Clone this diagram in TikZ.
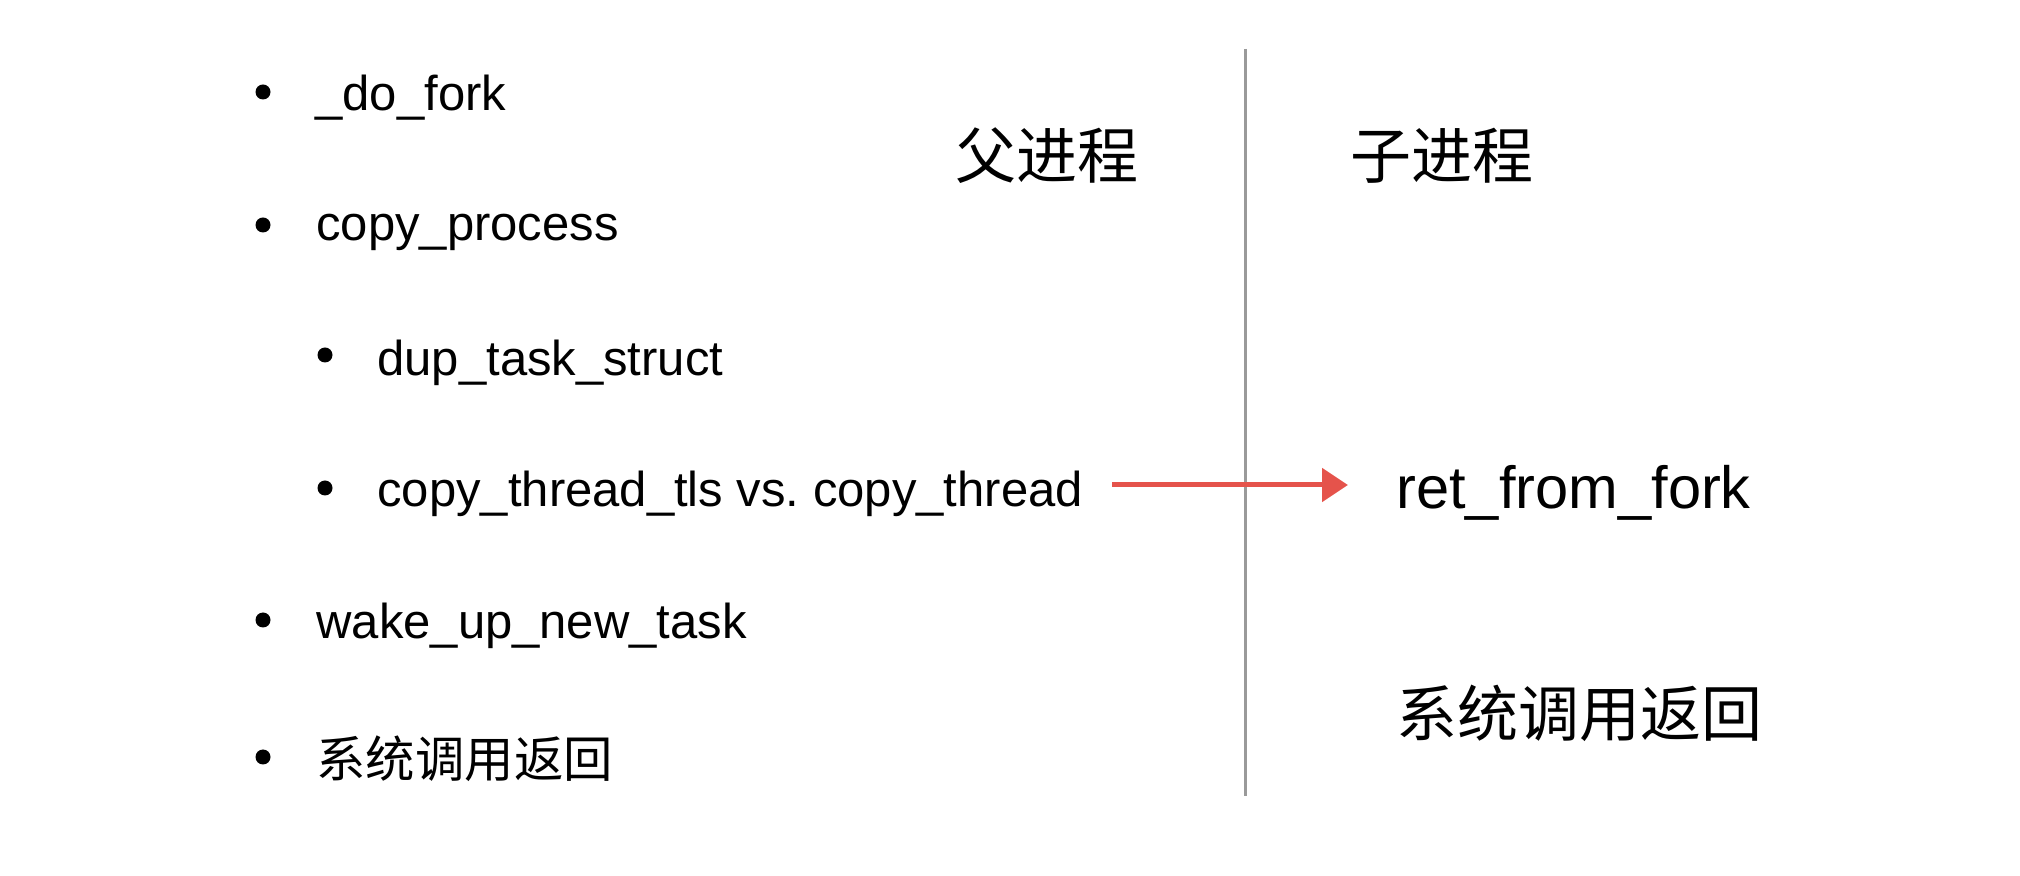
\documentclass[tikz,border=0pt]{standalone}
\usepackage{fontspec}
\setmainfont{Liberation Sans}
\newfontfamily\cjk{Noto Sans CJK SC}
\usetikzlibrary{arrows.meta}
\definecolor{arrowred}{HTML}{E5534B}
\definecolor{divgray}{HTML}{9A9A9A}
\tikzset{
  item/.style={anchor=base west, inner sep=0pt, font=\fontsize{24.5pt}{29pt}\selectfont},
  citem/.style={anchor=base west, inner sep=0pt, font=\cjk\fontsize{24.7pt}{29pt}\selectfont},
  bigtxt/.style={anchor=base west, inner sep=0pt, font=\fontsize{29.8pt}{35pt}\selectfont},
  bigcjk/.style={anchor=base west, inner sep=0pt, font=\cjk\fontsize{30.5pt}{36pt}\selectfont},
  dot/.style={circle, fill=black, inner sep=0pt, minimum size=7.5pt},
  divider/.style={draw=divgray, line width=1.5pt},
  redarrow/.style={draw=arrowred, line width=2.5pt, -{Triangle[length=13pt,width=16.5pt]}}
}
\begin{document}
\begin{tikzpicture}[x=0.5pt,y=-0.5pt]
\useasboundingbox (0,0) rectangle (2020,876);
% bullets
\node[dot] (b1) at (263,92) {};
\node[dot] (b2) at (263,225) {};
\node[dot] (b3) at (325,355) {};
\node[dot] (b4) at (325,488) {};
\node[dot] (b5) at (263,620) {};
\node[dot] (b6) at (263,757) {};
% items
\node[item] (t1) at (315,111) {\_do\_fork};
\node[item] (t2) at (316,241) {copy\_process};
\node[item] (t3) at (377,376) {dup\_task\_struct};
\node[item] (t4) at (377,507) {copy\_thread\_tls vs.\ copy\_thread};
\node[item] (t5) at (316,639) {wake\_up\_new\_task};
\node[citem] (t6) at (316,777) {系统调用返回};
% right side
\node[bigcjk] (parent) at (955,179) {父进程};
\node[bigcjk] (child) at (1350,179) {子进程};
\node[bigtxt] (ret) at (1396,509) {ret\_from\_fork};
\node[bigcjk] (sysret) at (1396,737) {系统调用返回};
% divider
\coordinate (dtop) at (1245,49);
\coordinate (dbot) at (1245,796);
\draw[divider] (dtop) -- (dbot);
% arrow
\coordinate (as) at (1112,485);
\coordinate (ae) at (1348,485);
\draw[redarrow] (as) -- (ae);
\end{tikzpicture}
\end{document}
